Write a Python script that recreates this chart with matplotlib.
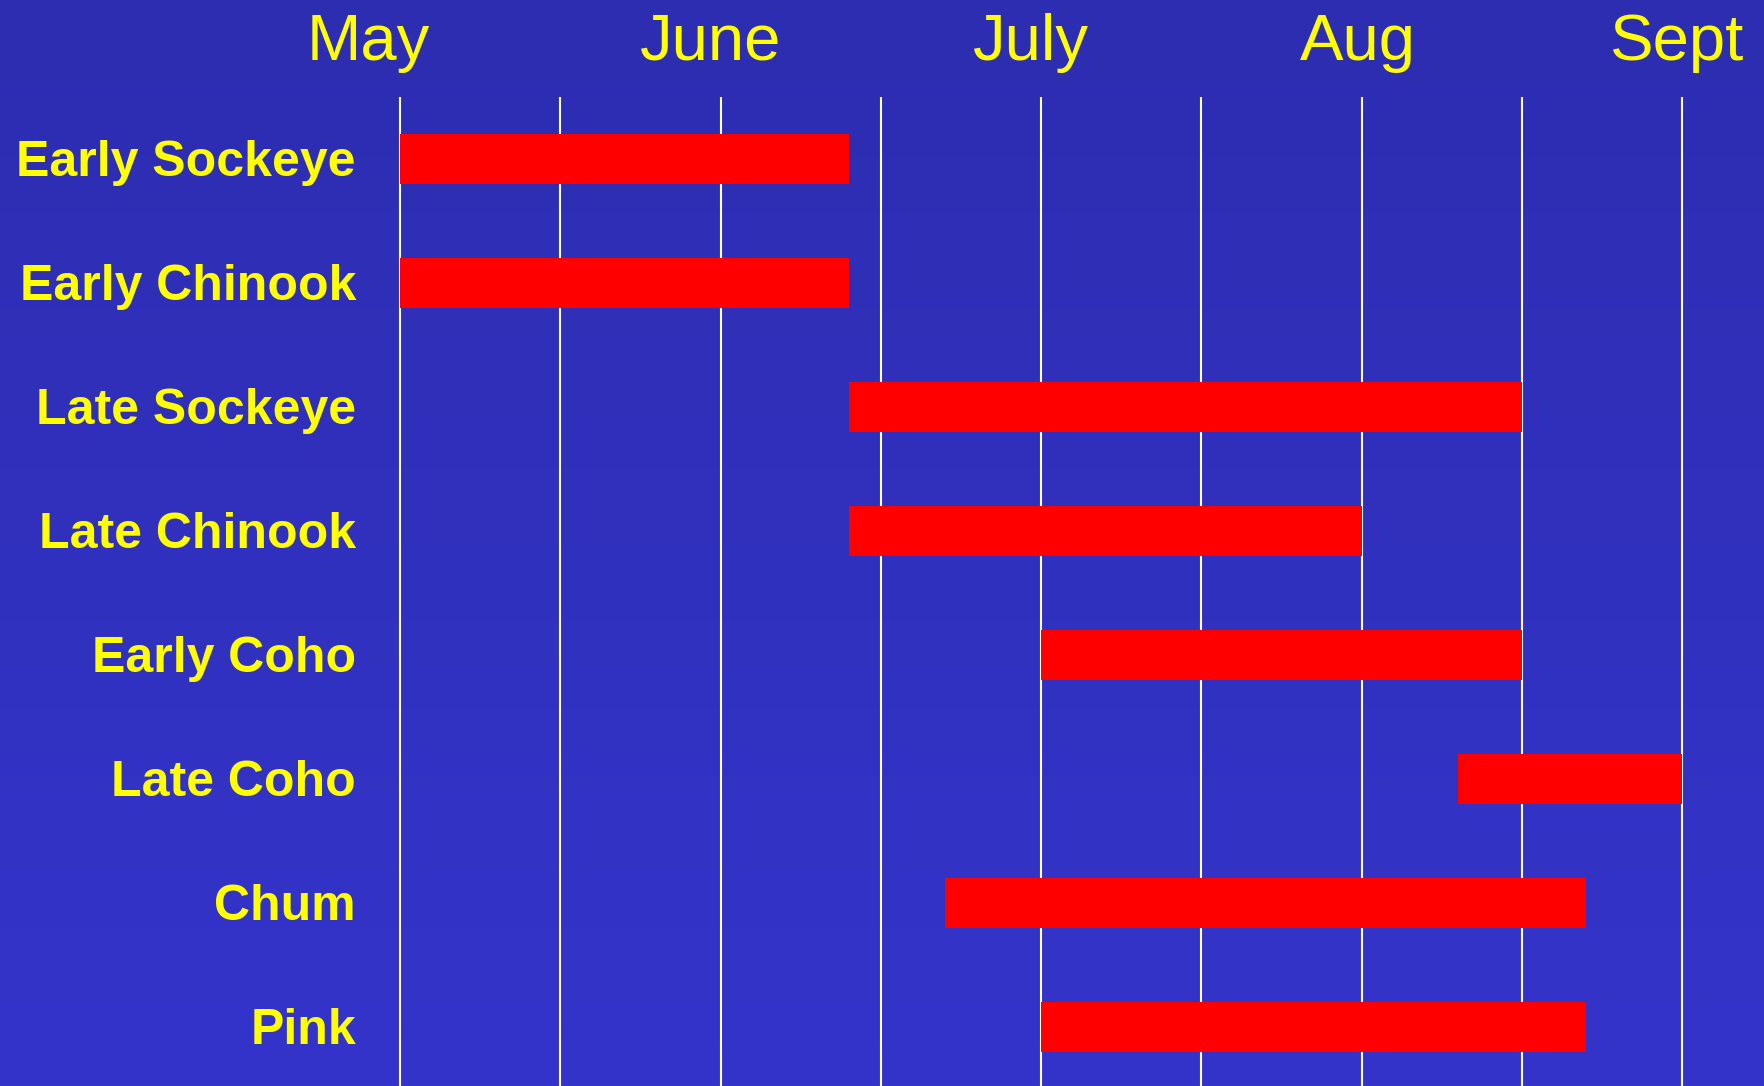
import numpy as np
import matplotlib
matplotlib.use("Agg")
import matplotlib.pyplot as plt
from matplotlib.colors import LinearSegmentedColormap

# --- data: run timing, in months after May 1 -------------------------------
species = ["Early Sockeye", "Early Chinook", "Late Sockeye", "Late Chinook",
           "Early Coho", "Late Coho", "Chum", "Pink"]
run_start = [0.0, 0.0, 1.4, 1.4, 2.0, 3.3, 1.7, 2.0]
run_end = [1.4, 1.4, 3.5, 3.0, 3.5, 4.0, 3.7, 3.7]
months = ["May", "June", "July", "Aug", "Sept"]
grid_pos = [0, 0.5, 1, 1.5, 2, 2.5, 3, 3.5, 4]

# --- style ------------------------------------------------------------------
BG_TOP = "#2D2DB1"
BG_BOT = "#3434CB"
YELLOW = "#FFFF00"
RED = "#FF0000"
FONT = ["Liberation Sans", "DejaVu Sans"]

W, H, DPI = 1765, 1086, 100
X0_PX, UNIT_PX = 400, 320.5          # May 1 at 400 px, one month = 320.5 px
ROW0_PX, ROW_PX = 159, 124           # first row centre, row pitch

fig = plt.figure(figsize=(W / DPI, H / DPI), dpi=DPI)
ax = fig.add_axes([0, 0, 1, 1])
xl = (-X0_PX / UNIT_PX, (W - X0_PX) / UNIT_PX)
yl = ((H - ROW0_PX) / ROW_PX, -ROW0_PX / ROW_PX)
ax.set_xlim(*xl)
ax.set_ylim(*yl)
ax.axis("off")

# vertical gradient background
cmap = LinearSegmentedColormap.from_list("bg", [BG_TOP, BG_BOT])
grad = np.linspace(0, 1, 256).reshape(-1, 1)
ax.imshow(grad, cmap=cmap, aspect="auto", extent=(xl[0], xl[1], yl[0], yl[1]),
          origin="upper", zorder=0)

# half-month gridlines
grid_top = (97 - ROW0_PX) / ROW_PX
ax.vlines(grid_pos, grid_top, yl[0], color="white", lw=1.5, zorder=1)

# run bars
rows = np.arange(len(species))
ax.barh(rows, np.array(run_end) - np.array(run_start), left=run_start,
        height=0.4, color=RED, zorder=2)

# species labels
label_x = (356 - X0_PX) / UNIT_PX
for r, name in zip(rows, species):
    ax.text(label_x, r + 0.03, name, ha="right", va="center", color=YELLOW,
            fontsize=36, fontweight="bold", family=FONT, zorder=3)

# month labels along the top
month_shift = [-0.10, -0.03, -0.03, -0.01, -0.015]
month_y = (60 - ROW0_PX) / ROW_PX
for i, (m, s) in enumerate(zip(months, month_shift)):
    ax.text(i + s, month_y, m, ha="center", va="baseline", color=YELLOW,
            fontsize=47, family=FONT, zorder=3)

fig.savefig("out.png", dpi=DPI)
